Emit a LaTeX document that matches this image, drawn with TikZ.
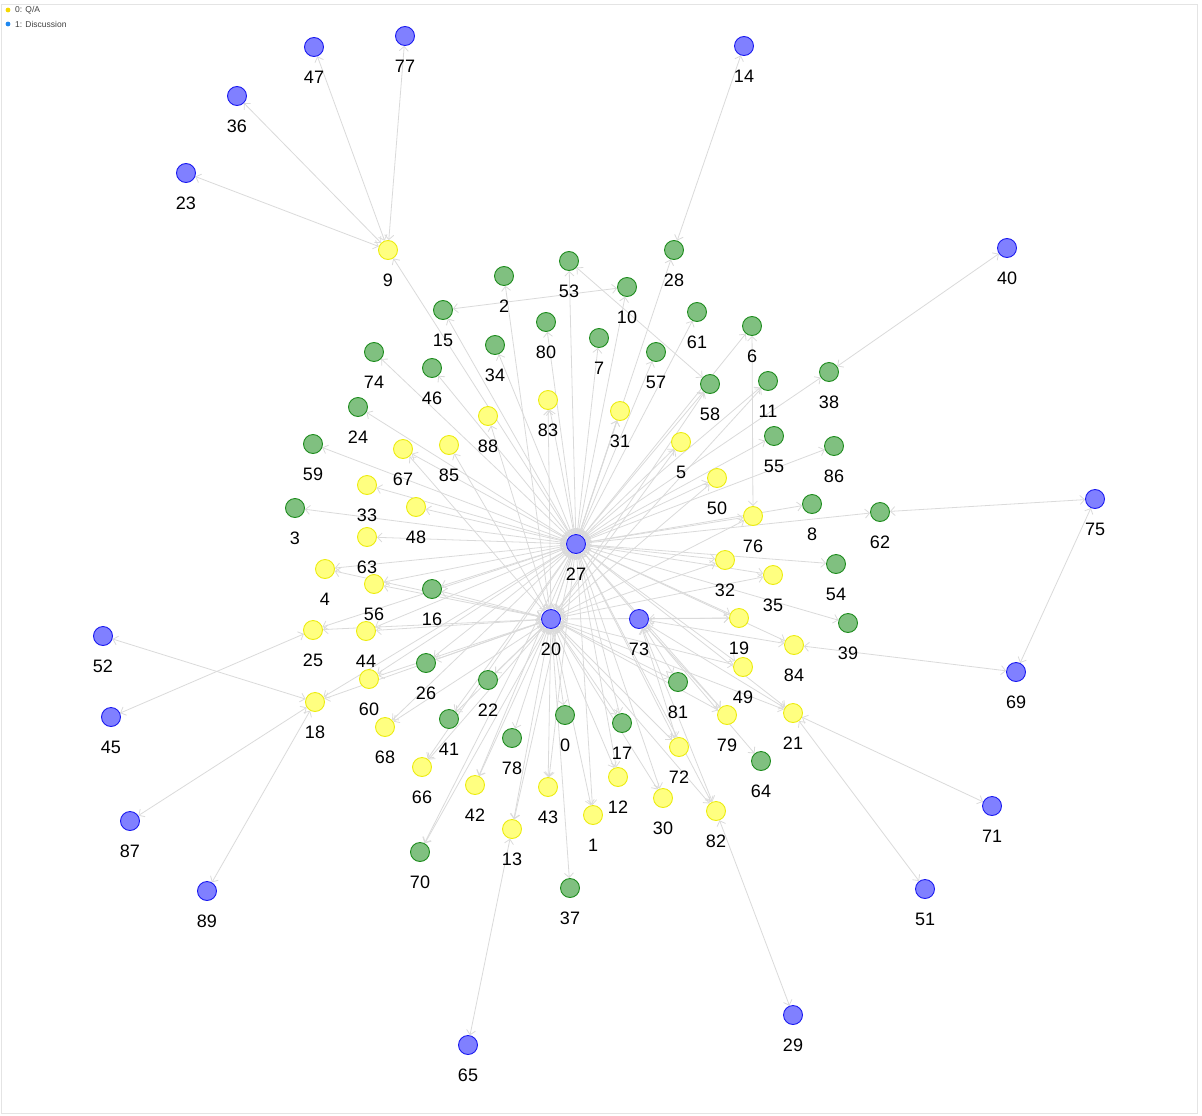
\documentclass[tikz,border=0pt]{standalone}
\usepackage{fontspec}
\setmainfont{Liberation Sans}
\usetikzlibrary{arrows.meta}
\pgfdeclarelayer{bg}
\pgfsetlayers{bg,main}
\definecolor{bfill}{HTML}{8080FF}
\definecolor{bline}{HTML}{1A1AF0}
\definecolor{yfill}{HTML}{FFFF80}
\definecolor{yline}{HTML}{ECEC10}
\definecolor{gfill}{HTML}{80C080}
\definecolor{gline}{HTML}{1E8C1E}
\definecolor{edgec}{HTML}{DADADA}
\definecolor{frame}{HTML}{E4E4E4}
\definecolor{legy}{HTML}{F5D800}
\definecolor{legb}{HTML}{1E88F0}
\tikzset{
  vtx/.style={circle, minimum size=19pt, inner sep=0pt, line width=0.9pt},
  nb/.style={vtx, fill=bfill, draw=bline},
  ny/.style={vtx, fill=yfill, draw=yline},
  ng/.style={vtx, fill=gfill, draw=gline},
  lbl/.style={inner sep=0pt, font=\fontsize{18}{20}\selectfont, text=black},
  edge/.style={draw=edgec, line width=0.8pt, {Straight Barb[length=4.5pt,width=9pt]}-{Straight Barb[length=4.5pt,width=9pt]}},
  legtxt/.style={inner sep=0pt, anchor=west, font=\fontsize{8.5}{10}\selectfont, text=black!75},
  label distance=13.5pt
}
\begin{document}
\begin{tikzpicture}[x=1pt, y=-1pt]
\useasboundingbox (0,0) rectangle (1202,1116);
\draw[frame, line width=0.8pt] (1.5,4) rectangle (1197,1113.5);
% legend
\fill[legy] (8,10) circle (2.4pt);
\node[legtxt] (leg0) at (15,10) {0: Q/A};
\fill[legb] (8,24) circle (2.4pt);
\node[legtxt] (leg1) at (15,24) {1: Discussion};
% nodes
\foreach \n/\x/\y/\s in {
27/576/544/nb, 20/551/619/nb, 73/639/619/nb, 47/314/47/nb, 77/405/36/nb, 36/237/96/nb, 23/186/173/nb,
14/744/46/nb, 40/1007/248/nb, 75/1095/499/nb, 69/1016/672/nb, 52/103/636/nb, 45/111/717/nb,
87/130/821/nb, 89/207/891/nb, 65/468/1045/nb, 29/793/1015/nb, 51/925/889/nb, 71/992/806/nb,
9/388/250/ny, 83/548/400/ny, 88/488/416/ny, 31/620/411/ny, 85/449/445/ny, 67/403/449/ny, 5/681/442/ny,
50/717/478/ny, 33/367/485/ny, 48/416/507/ny, 76/753/516/ny, 63/367/537/ny, 32/725/560/ny, 35/773/575/ny,
4/325/569/ny, 56/374/584/ny, 25/313/630/ny, 44/366/631/ny, 19/739/618/ny, 84/794/645/ny, 60/369/679/ny,
18/315/702/ny, 49/743/667/ny, 68/385/727/ny, 79/727/715/ny, 21/793/713/ny, 66/422/767/ny, 72/679/747/ny,
42/475/785/ny, 43/548/787/ny, 12/618/777/ny, 30/663/798/ny, 1/593/815/ny, 82/716/811/ny, 13/512/829/ny,
28/674/250/ng, 2/504/276/ng, 53/569/261/ng, 10/627/287/ng, 15/443/310/ng, 80/546/322/ng, 61/697/312/ng,
6/752/326/ng, 7/599/338/ng, 34/495/345/ng, 57/656/352/ng, 74/374/352/ng, 46/432/368/ng, 58/710/384/ng,
11/768/381/ng, 38/829/372/ng, 24/358/407/ng, 55/774/436/ng, 86/834/446/ng, 59/313/444/ng, 8/812/504/ng,
62/880/512/ng, 3/295/508/ng, 54/836/564/ng, 16/432/589/ng, 39/848/623/ng, 26/426/663/ng, 22/488/680/ng,
81/678/682/ng, 41/449/719/ng, 0/565/715/ng, 17/622/723/ng, 78/512/738/ng, 64/761/761/ng, 70/420/852/ng,
37/570/888/ng}
  \node[\s, label={[lbl]below:\n}] (n\n) at (\x,\y) {};
% edges
\begin{pgfonlayer}{bg}
\foreach \a/\b in {9/47, 9/77, 9/36, 9/23, 28/14, 38/40, 62/75, 75/69, 84/69, 21/71, 21/51, 82/29,
13/65, 18/52, 18/87, 18/89, 25/45, 15/10, 53/58, 6/76}
  \draw[edge] (n\a) -- (n\b);
\foreach \b in {9, 15, 53, 10, 28, 80, 7, 57, 61, 6, 58, 11, 38, 55, 86, 8, 62, 54, 39, 34, 46, 74, 24,
59, 3, 33, 63, 67, 48, 83, 31, 5, 50, 76, 32, 35, 19, 84, 49, 21, 79, 64, 72, 82, 30, 17, 12, 1, 43,
13, 42, 66, 68, 60, 18, 25, 44, 56, 4, 16, 26, 41, 70, 20}
  \draw[edge] (n27) -- (n\b);
\foreach \b in {2, 88, 83, 85, 67, 31, 5, 50, 76, 58, 11, 16, 56, 4, 25, 44, 60, 18, 26, 68, 41, 66,
22, 42, 78, 13, 43, 0, 1, 37, 70, 12, 17, 30, 72, 82, 79, 49, 21, 19, 35, 32, 81}
  \draw[edge] (n20) -- (n\b);
\foreach \b in {19, 84, 81, 72, 82, 79, 21}
  \draw[edge] (n73) -- (n\b);
\end{pgfonlayer}
\end{tikzpicture}
\end{document}
